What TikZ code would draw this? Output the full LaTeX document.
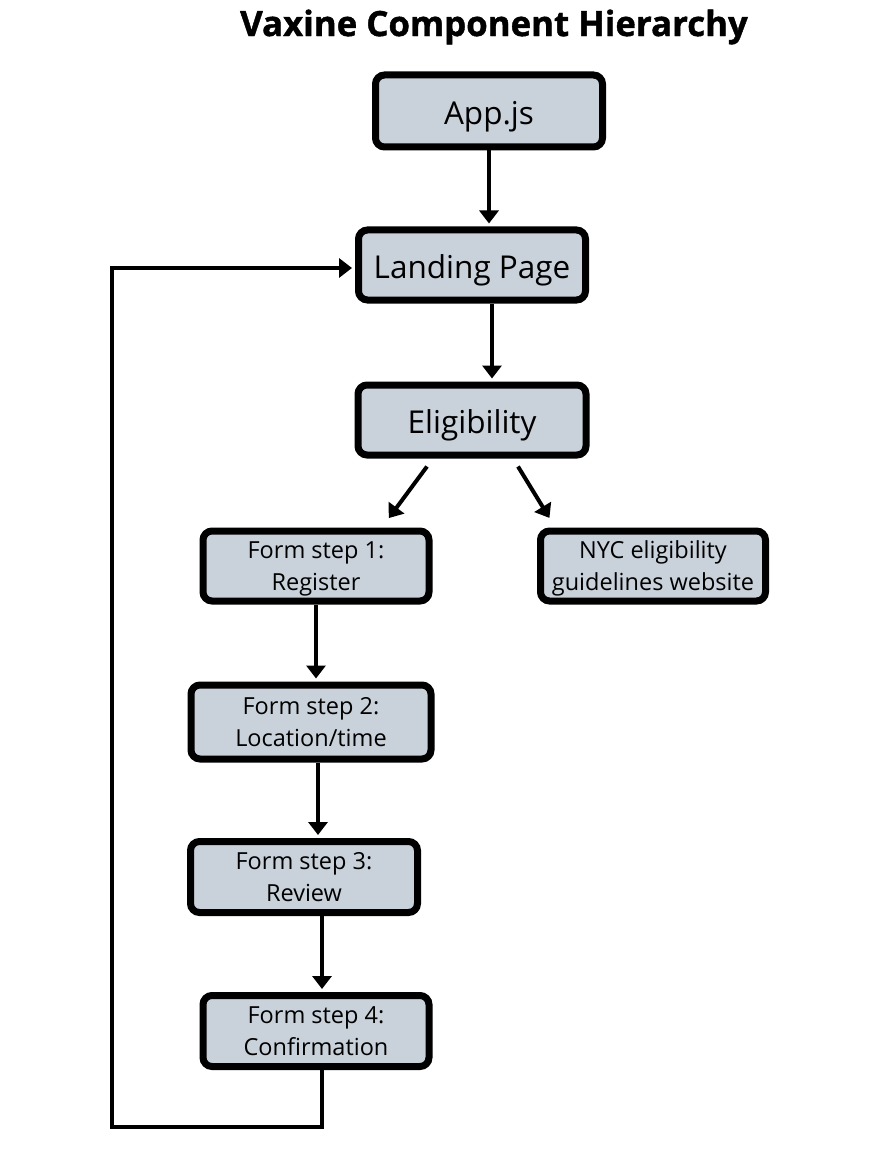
\documentclass[tikz,border=0pt]{standalone}
\usepackage{fontspec}
\setmainfont{Open Sans}
\usetikzlibrary{arrows.meta,calc}
\definecolor{boxfill}{HTML}{C9D1DA}
\tikzset{
  box/.style={draw=black, line width=7pt, rounded corners=9pt, fill=boxfill, inner sep=0pt, align=center,
    font=\fontsize{23.5}{32}\selectfont, text height=54pt, text depth=6pt},
  bigbox/.style={box, font=\fontsize{31.5}{36}\selectfont, text height=33pt, text depth=6pt},
  arr/.style={line width=4pt, -{Triangle[width=19pt,length=13pt]}, shorten >=3pt},
  loopline/.style={line width=4pt, line cap=rect}
}
\begin{document}
\begin{tikzpicture}[x=1pt,y=-1pt]
\useasboundingbox (0,0) rectangle (878,1174);
\node[font=\fontsize{34.8}{40}\selectfont\bfseries\addfontfeatures{FakeBold=1.2}] (title) at (494,27) {Vaxine Component Hierarchy};
\node[bigbox, minimum width=227pt, minimum height=72pt] (app) at (489,111) {App.js};
\node[bigbox, minimum width=227pt, minimum height=70pt] (land) at (472,265) {Landing Page};
\node[bigbox, minimum width=228pt, minimum height=70pt] (elig) at (472,420) {Eligibility};
\node[box, minimum width=226pt, minimum height=70pt] (f1) at (316,566) {Form step 1:\\Register};
\node[box, minimum width=225pt, minimum height=70pt] (nyc) at (653,566) {NYC eligibility\\guidelines website};
\node[box, minimum width=240pt, minimum height=74pt] (f2) at (311,722) {Form step 2:\\Location/time};
\node[box, minimum width=227pt, minimum height=71pt] (f3) at (304,877) {Form step 3:\\Review};
\node[box, minimum width=226pt, minimum height=71pt] (f4) at (316,1031) {Form step 4:\\Confirmation};
\coordinate (corner) at (112,1127);

\draw[arr] (app.south) -- (app.south |- land.north);
\draw[arr] ($(land.south)+(20,0)$) -- ($(land.south |- elig.north)+(20,0)$);
\draw[arr] ($(elig.south)+(-45,8)$) -- ($(f1.north)+(71,-7)$);
\draw[arr] ($(elig.south)+(46,8)$) -- ($(nyc.north)+(-102,-7)$);
\draw[arr] (f1.south) -- (f1.south |- f2.north);
\draw[arr] ($(f2.south)+(7,0)$) -- ($(f2.south |- f3.north)+(7,0)$);
\draw[arr] ($(f3.south)+(18,0)$) -- ($(f3.south |- f4.north)+(18,0)$);
\draw[loopline] ($(f4.south)+(6,0)$) |- (corner);
\draw[arr] (corner) |- ($(land.west)+(0,3)$);
\end{tikzpicture}
\end{document}
